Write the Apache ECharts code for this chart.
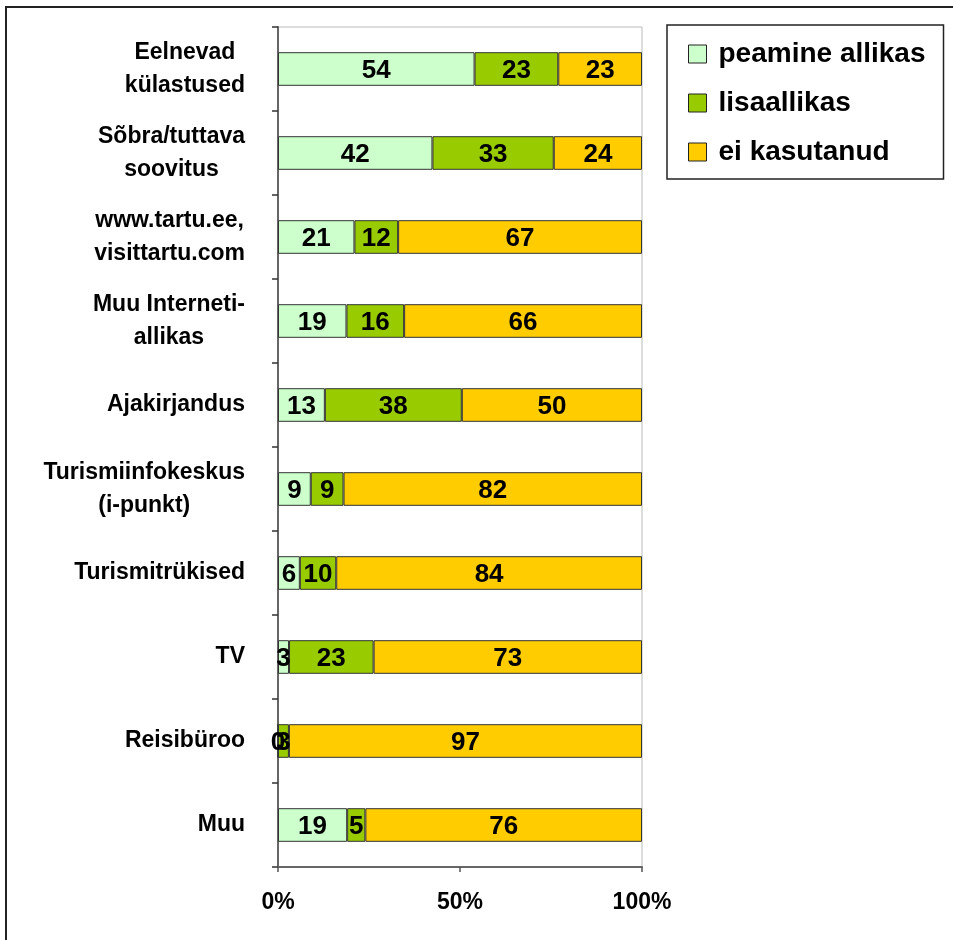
<!DOCTYPE html>
<html>
<head>
<meta charset="utf-8">
<script src="https://cdn.jsdelivr.net/npm/echarts@6/dist/echarts.min.js"></script>
<style>
    html, body { margin: 0; padding: 0; background: #fff; }
    #chart { width: 953px; height: 940px; }
</style>
</head>
<body>
<div id="chart"></div>
<script>
// kategooriad ülevalt alla
var categories = [
    'Eelnevad\nkülastused',
    'Sõbra/tuttava\nsoovitus',
    'www.tartu.ee,\nvisittartu.com',
    'Muu Interneti-\nallikas',
    'Ajakirjandus',
    'Turismiinfokeskus\n(i-punkt)',
    'Turismitrükised',
    'TV',
    'Reisibüroo',
    'Muu'
];
var seriesNames = ['peamine allikas', 'lisaallikas', 'ei kasutanud'];
var peamine = [54, 42, 21, 19, 13, 9, 6, 3, 0, 19];
var lisa = [23, 33, 12, 16, 38, 9, 10, 23, 3, 5];
var eiKasutanud = [23, 24, 67, 66, 50, 82, 84, 73, 97, 76];
var xTicks = [0, 50, 100];

var colors = ['#CCFFCC', '#99CC00', '#FFCC00'];
var font = 'Liberation Sans, Arial, sans-serif';

var raw = [peamine, lisa, eiKasutanud];
// 100% tulp: iga rida normeeritakse summale
var sums = categories.map(function (c, i) {
    return peamine[i] + lisa[i] + eiKasutanud[i];
});

var chart = echarts.init(document.getElementById('chart'));

var option = {
    animation: false,
    backgroundColor: '#fff',
    textStyle: { fontFamily: font },
    graphic: [{
        type: 'rect',
        z: -10,
        shape: { x: 6, y: 7, width: 1100, height: 1100 },
        style: { fill: 'none', stroke: '#222', lineWidth: 2 }
    }],
    legend: {
        orient: 'vertical',
        left: 667,
        top: 25,
        padding: [15, 18, 13, 21],
        itemWidth: 18,
        itemHeight: 18,
        itemGap: 21,
        borderColor: '#222',
        borderWidth: 1.5,
        backgroundColor: '#fff',
        icon: 'rect',
        itemStyle: { borderColor: '#222', borderWidth: 1 },
        textStyle: {
            fontFamily: font,
            fontSize: 28,
            fontWeight: 'bold',
            color: '#000',
            padding: [0, 0, 0, 7]
        },
        data: seriesNames
    },
    grid: {
        left: 278,
        right: 311,
        top: 27,
        bottom: 73,
        show: true,
        borderColor: '#bbb',
        borderWidth: 1
    },
    xAxis: {
        type: 'value',
        min: xTicks[0],
        max: xTicks[xTicks.length - 1],
        interval: xTicks[1] - xTicks[0],
        axisLine: { show: true, lineStyle: { color: '#666', width: 2 } },
        axisTick: { show: true, length: 5, lineStyle: { color: '#555', width: 1.5 } },
        splitLine: { show: false },
        axisLabel: {
            margin: 24,
            fontFamily: font,
            fontSize: 23,
            fontWeight: 'bold',
            color: '#000',
            formatter: '{value}%'
        }
    },
    yAxis: {
        type: 'category',
        inverse: true,
        data: categories,
        axisLine: { show: true, lineStyle: { color: '#666', width: 2 } },
        axisTick: { show: true, length: 6, lineStyle: { color: '#333', width: 1.5 } },
        axisLabel: {
            margin: 33,
            formatter: function (v) {
                return v.split('\n').map(function (l) { return '{c|' + l + '}'; }).join('\n');
            },
            rich: {
                c: {
                    align: 'center',
                    fontFamily: font,
                    fontSize: 23,
                    fontWeight: 'bold',
                    lineHeight: 33,
                    color: '#000'
                }
            }
        }
    },
    series: seriesNames.map(function (name, s) {
        return {
            name: name,
            type: 'bar',
            stack: 'total',
            barWidth: '40%',
            itemStyle: { color: colors[s], borderColor: '#333', borderWidth: 1 },
            label: {
                show: true,
                position: 'inside',
                offset: [0, 2],
                fontFamily: font,
                fontSize: 26,
                fontWeight: 'bold',
                color: '#000',
                formatter: function (p) { return raw[s][p.dataIndex]; }
            },
            data: raw[s].map(function (v, i) { return v / sums[i] * 100; })
        };
    })
};

chart.setOption(option);
</script>
</body>
</html>
